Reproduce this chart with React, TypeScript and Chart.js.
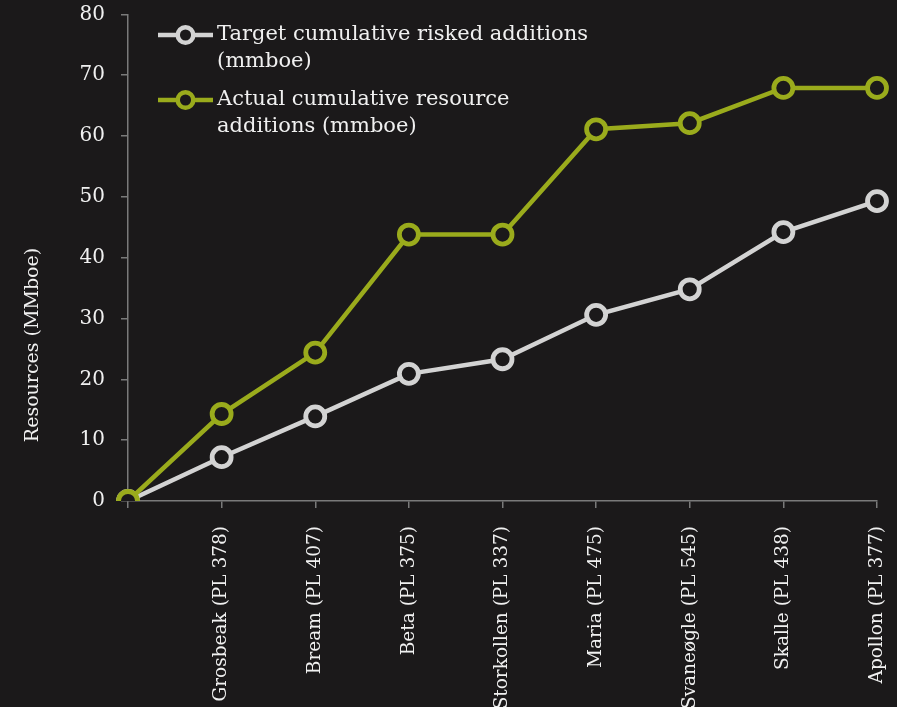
import React, { useEffect, useRef } from "react";
import { Chart, registerables } from "chart.js";

Chart.register(...registerables);

const categories = [
  "",
  "Grosbeak (PL 378)",
  "Bream (PL 407)",
  "Beta (PL 375)",
  "Storkollen (PL 337)",
  "Maria (PL 475)",
  "Svaneøgle (PL 545)",
  "Skalle (PL 438)",
  "Apollon (PL 377)",
];
const targetValues = [0, 7.2, 13.9, 20.9, 23.3, 30.6, 34.8, 44.2, 49.3];
const actualValues = [0, 14.3, 24.4, 43.8, 43.8, 61.1, 62.1, 67.9, 67.9];
const targetLegend = ["Target cumulative risked additions", "(mmboe)"];
const actualLegend = ["Actual cumulative resource", "additions (mmboe)"];
const yAxisTitle = "Resources (MMboe)";
const yMin = 0;
const yMax = 80;
const yStep = 10;

const BG = "#1b191a";
const GRAY = "#d3d3d3";
const GREEN = "#9aab1c";
const AXIS = "#7a7a7a";
const TEXT = "#f0f0f0";
const FONT = "DejaVu Serif";

function zeroPad(s: any) {
  s.paddingTop = 0;
  s.paddingBottom = 0;
  s.paddingLeft = 0;
  s.paddingRight = 0;
}

export default function App() {
  const ref = useRef<HTMLCanvasElement | null>(null);

  useEffect(() => {
    document.body.style.margin = "0";
    document.body.style.background = BG;
    const canvas = ref.current;
    if (!canvas) return;

    const overlay = {
      id: "overlay",
      afterDraw(chart: any) {
        const ctx = chart.ctx;
        ctx.save();
        ctx.fillStyle = TEXT;
        ctx.font = `19px '${FONT}'`;
        ctx.translate(33, 345);
        ctx.rotate(-Math.PI / 2);
        ctx.textAlign = "center";
        ctx.textBaseline = "middle";
        ctx.fillText(yAxisTitle, 0, 0);
        ctx.restore();

        const entries = [
          { color: GRAY, lines: targetLegend, y: 35 },
          { color: GREEN, lines: actualLegend, y: 100 },
        ];
        ctx.save();
        for (const e of entries) {
          ctx.strokeStyle = e.color;
          ctx.lineWidth = 4.5;
          ctx.beginPath();
          ctx.moveTo(158, e.y);
          ctx.lineTo(213, e.y);
          ctx.stroke();
          ctx.beginPath();
          ctx.arc(185.5, e.y, 7.8, 0, Math.PI * 2);
          ctx.fillStyle = BG;
          ctx.fill();
          ctx.stroke();
          ctx.fillStyle = TEXT;
          ctx.font = `21px '${FONT}'`;
          ctx.textAlign = "left";
          ctx.textBaseline = "middle";
          e.lines.forEach((l, i) => ctx.fillText(l, 217, e.y + i * 27));
        }
        ctx.restore();
      },
    };

    const chart = new Chart(canvas, {
      type: "line",
      data: {
        labels: categories,
        datasets: [
          {
            label: targetLegend.join(" "),
            data: targetValues,
            borderColor: GRAY,
            backgroundColor: BG,
            borderWidth: 4.5,
            pointRadius: 9.5,
            pointHoverRadius: 9.5,
            pointBorderWidth: 4.8,
            pointBackgroundColor: BG,
            pointBorderColor: GRAY,
            tension: 0,
            order: 1,
          },
          {
            label: actualLegend.join(" "),
            data: actualValues,
            borderColor: GREEN,
            backgroundColor: BG,
            borderWidth: 4.5,
            pointRadius: 9.5,
            pointHoverRadius: 9.5,
            pointBorderWidth: 4.8,
            pointBackgroundColor: BG,
            pointBorderColor: GREEN,
            tension: 0,
            order: 0,
          },
        ],
      },
      options: {
        animation: false,
        responsive: false,
        maintainAspectRatio: false,
        layout: { padding: { top: 14, right: 20, left: 0, bottom: 0 } },
        plugins: {
          legend: { display: false },
          tooltip: { enabled: false },
          title: { display: false },
        },
        scales: {
          x: {
            type: "category",
            offset: false,
            afterFit: (s: any) => {
              s.height = 206;
              zeroPad(s);
            },
            grid: {
              display: true,
              drawOnChartArea: false,
              drawTicks: true,
              tickLength: 7,
              color: AXIS,
              lineWidth: 1.5,
            },
            border: { display: true, color: AXIS, width: 1.5 },
            ticks: {
              color: TEXT,
              font: { family: FONT, size: 18.5 },
              minRotation: 90,
              maxRotation: 90,
              autoSkip: false,
              padding: 18,
            },
          },
          y: {
            min: yMin,
            max: yMax,
            afterFit: (s: any) => {
              s.width = 128;
              zeroPad(s);
            },
            grid: {
              display: true,
              drawOnChartArea: false,
              drawTicks: true,
              tickLength: 7,
              color: AXIS,
              lineWidth: 1.5,
            },
            border: { display: true, color: AXIS, width: 1.5 },
            ticks: {
              stepSize: yStep,
              color: TEXT,
              font: { family: FONT, size: 20 },
              padding: 16,
            },
          },
        },
      },
      plugins: [overlay],
    });

    return () => chart.destroy();
  }, []);

  return (
    <div style={{ width: 897, height: 707, background: BG }}>
      <canvas ref={ref} width={897} height={707} style={{ display: "block", width: 897, height: 707 }} />
    </div>
  );
}
